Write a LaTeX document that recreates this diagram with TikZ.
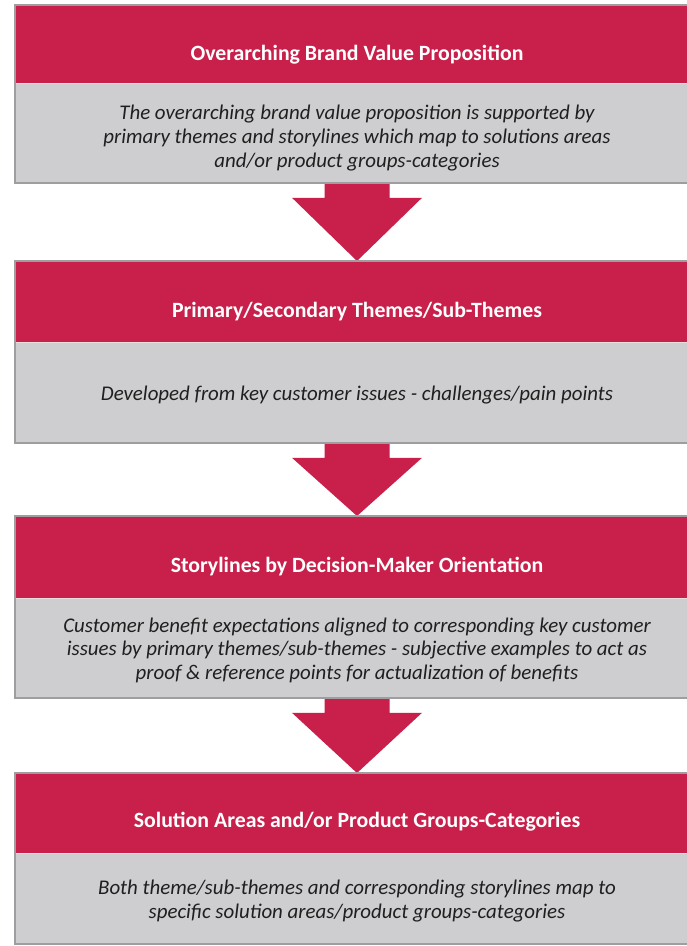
\documentclass[tikz,border=0pt]{standalone}
\usepackage{fontspec}
\setmainfont{Carlito}
\usetikzlibrary{calc}
\definecolor{brandred}{RGB}{200,32,74}
\definecolor{bodygray}{RGB}{206,206,209}
\definecolor{edgegray}{RGB}{158,158,160}
\definecolor{seamline}{RGB}{232,222,226}
\tikzset{
  hdr/.style={rectangle, fill=brandred, minimum width=684pt, inner sep=0pt, anchor=north},
  bodybox/.style={rectangle, fill=bodygray, minimum width=684pt, inner sep=0pt, anchor=north},
  htext/.style={text=white, inner sep=0pt, font=\fontsize{21.8}{25}\selectfont\bfseries},
  btext/.style={text=black!88, inner sep=0pt, align=center, font=\fontsize{20.9}{23.6}\selectfont\itshape},
  boxframe/.style={draw=edgegray, line width=2pt},
  seam/.style={draw=seamline, line width=1pt},
  bigarrow/.style={fill=brandred}
}
\begin{document}
\begin{tikzpicture}[x=1pt,y=-1pt]
\useasboundingbox (0,0) rectangle (687,946);
\fill[white] (0,0) rectangle (687,946);

% boxes
\node[hdr, minimum height=78pt] (h1) at (357,5) {};
\node[bodybox, minimum height=99pt] (b1) at (h1.south) {};
\node[hdr, minimum height=81pt] (h2) at (357,261) {};
\node[bodybox, minimum height=100pt] (b2) at (h2.south) {};
\node[hdr, minimum height=82pt] (h3) at (357,516) {};
\node[bodybox, minimum height=99pt] (b3) at (h3.south) {};
\node[hdr, minimum height=80pt] (h4) at (357,773) {};
\node[bodybox, minimum height=90pt] (b4) at (h4.south) {};

% arrows
\foreach \a/\b in {b1/h2, b2/h3, b3/h4}{
  \fill[bigarrow] ($(\a.south)+(-32.5,0)$) -- ($(\a.south)+(32.5,0)$) -- ($(\a.south)+(32.5,15)$)
    -- ($(\a.south)+(65,15)$) -- (\b.north) -- ($(\a.south)+(-65,15)$) -- ($(\a.south)+(-32.5,15)$) -- cycle;
}

% seams and frames
\foreach \h/\b in {h1/b1, h2/b2, h3/b3, h4/b4}{
  \draw[seam] (\h.south west) -- (\h.south east);
  \draw[boxframe] (\h.north west) rectangle (\b.south east);
}

% texts
\node[htext] at ($(h1.center)+(0,10)$) {Overarching Brand Value Proposition};
\node[btext] at ($(b1.center)+(0,5)$) {The overarching brand value proposition is supported by\\primary themes and storylines which map to solutions areas\\and/or product groups-categories};
\node[htext] at ($(h2.center)+(0,10)$) {Primary/Secondary Themes/Sub-Themes};
\node[btext] at ($(b2.center)+(0,2)$) {Developed from key customer issues - challenges/pain points};
\node[htext] at ($(h3.center)+(0,9)$) {Storylines by Decision-Maker Orientation};
\node[btext] at ($(b3.center)+(0,2)$) {Customer benefit expectations aligned to corresponding key customer\\issues by primary themes/sub-themes - subjective examples to act as\\proof \& reference points for actualization of benefits};
\node[htext] at ($(h4.center)+(0,8)$) {Solution Areas and/or Product Groups-Categories};
\node[btext] at ($(b4.center)+(0,2.5)$) {Both theme/sub-themes and corresponding storylines map to\\specific solution areas/product groups-categories};
\end{tikzpicture}
\end{document}
